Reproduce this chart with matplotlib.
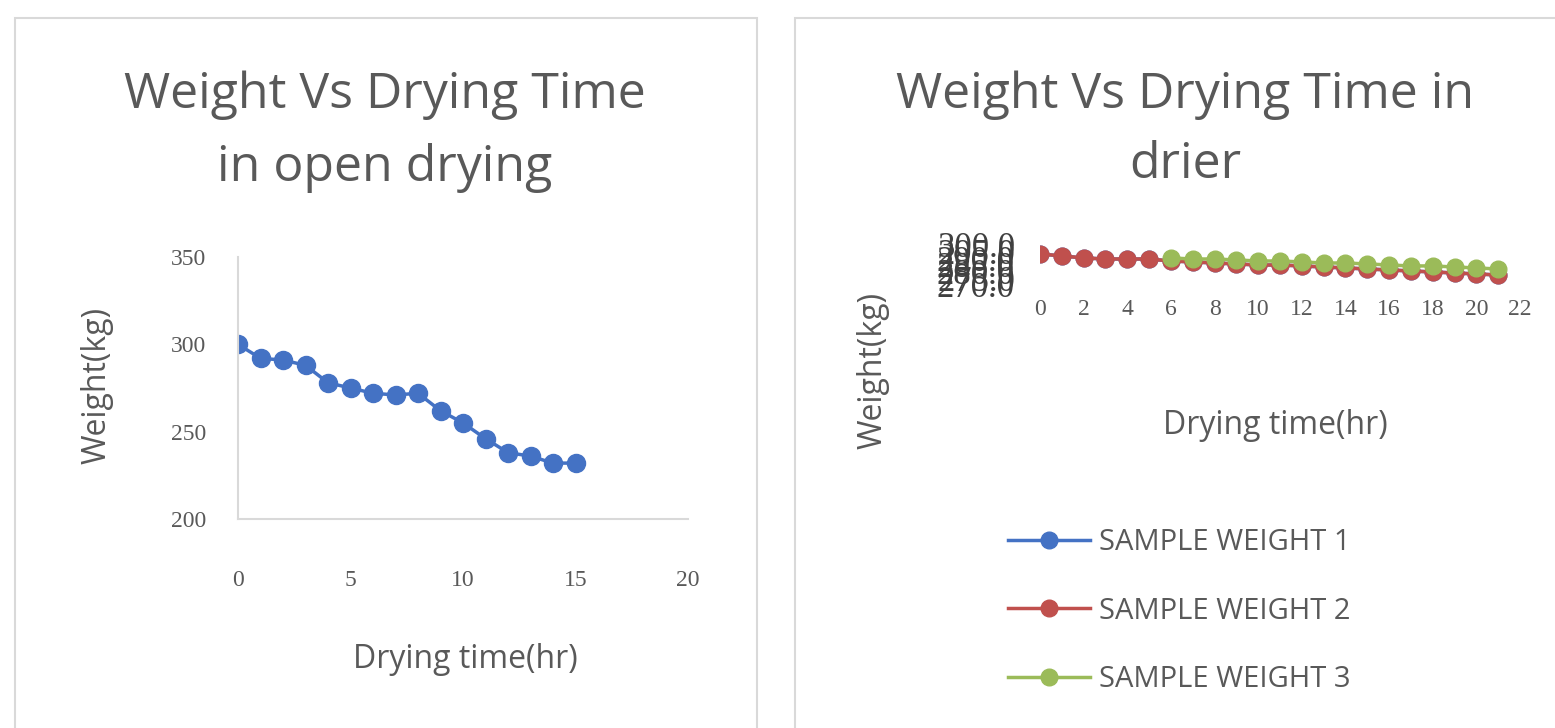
import matplotlib.pyplot as plt
from matplotlib.patches import Rectangle
from matplotlib.ticker import FormatStrFormatter

# Open drying data
open_time = list(range(16))
open_weight = [300, 292, 291, 288, 278, 275, 272, 271, 272, 262, 255, 246, 238, 236, 232, 232]

# Drier data
drier_time = list(range(22))
sample_w1 = [293.3, 291.8, 290.3, 289.5, 289.5, 289.5, 288.0, 287.3, 286.5, 285.8, 285.0,
             285.0, 284.3, 283.5, 282.8, 282.0, 281.3, 280.5, 279.8, 279.0, 278.3, 277.5]
sample_w2 = [293.3, 291.8, 290.3, 289.5, 289.5, 289.5, 288.0, 287.3, 286.5, 285.8, 285.0,
             285.0, 284.3, 283.5, 282.8, 282.0, 281.3, 280.5, 279.8, 279.0, 278.3, 277.5]
w3_time = list(range(6, 22))
sample_w3 = [290.3, 289.5, 289.5, 288.8, 288.0, 288.0, 287.3, 286.5, 286.5, 285.8, 285.0,
             284.3, 284.3, 283.5, 282.8, 282.0]
legend_labels = ['SAMPLE WEIGHT 1', 'SAMPLE WEIGHT 2', 'SAMPLE WEIGHT 3']

# Styles
W, H = 1555, 728
txt = '#595959'
axc = '#D9D9D9'
blue, red, green = '#4472C4', '#C0504D', '#9BBB59'
sans = 'Open Sans'
serif = 'Liberation Serif'

fig = plt.figure(figsize=(W / 100, H / 100), dpi=100)


def box(x0, y0, x1, y1):
    # pixel coords (top-left origin) -> figure fraction
    return [x0 / W, 1 - y1 / H, (x1 - x0) / W, (y1 - y0) / H]


# Chart panels
for (x0, y0, x1, y1) in [(15, 18, 757, 740), (795, 18, 1570, 740)]:
    fig.patches.append(Rectangle((x0 / W, 1 - y1 / H), (x1 - x0) / W, (y1 - y0) / H,
                                 transform=fig.transFigure, fill=False, ec=axc, lw=1.5))

# Left chart
ax1 = fig.add_axes(box(238, 257, 688, 519))
ax1.plot(open_time, open_weight, color=blue, lw=2.5, marker='o', ms=13)
ax1.set_xlim(0, 20)
ax1.set_ylim(200, 350)
ax1.set_xticks([0, 5, 10, 15, 20])
ax1.set_yticks([200, 250, 300, 350])
for s in ['top', 'right']:
    ax1.spines[s].set_visible(False)
for s in ['left', 'bottom']:
    ax1.spines[s].set_color(axc)
    ax1.spines[s].set_linewidth(1.5)
ax1.tick_params(length=0, colors=txt, labelsize=17)
ax1.tick_params(axis='x', pad=37)
ax1.tick_params(axis='y', pad=23)
for lab in ax1.get_xticklabels() + ax1.get_yticklabels():
    lab.set_family(serif)
fig.text(385 / W, 1 - 95 / H, 'Weight Vs Drying Time', ha='center', va='center',
         fontsize=36, color=txt, family=sans)
fig.text(385 / W, 1 - 168 / H, 'in open drying', ha='center', va='center',
         fontsize=36, color=txt, family=sans)
fig.text(97 / W, 1 - 385 / H, 'Weight(kg)', ha='center', va='center', rotation=90,
         fontsize=23, color=txt, family=sans)
fig.text(465 / W, 1 - 660 / H, 'Drying time(hr)', ha='center', va='center',
         fontsize=23, color=txt, family=sans)

# Right chart
ax2 = fig.add_axes(box(1040, 245, 1520, 285))
l1, = ax2.plot(drier_time, sample_w1, color=blue, lw=2.5, marker='o', ms=12)
l2, = ax2.plot(drier_time, sample_w2, color=red, lw=2.5, marker='o', ms=12)
l3, = ax2.plot(w3_time, sample_w3, color=green, lw=2.5, marker='o', ms=12)
ax2.set_xlim(0, 22)
ax2.set_ylim(270, 300)
ax2.set_xticks(range(0, 23, 2))
ax2.set_yticks(range(270, 301, 5))
ax2.yaxis.set_major_formatter(FormatStrFormatter('%.1f'))
for s in ax2.spines.values():
    s.set_visible(False)
ax2.tick_params(length=0, colors=txt, labelsize=17)
ax2.tick_params(axis='x', pad=10)
ax2.tick_params(axis='y', pad=18)
for lab in ax2.get_xticklabels() + ax2.get_yticklabels():
    lab.set_family(serif)
for lab in ax2.get_yticklabels():
    lab.set_color('#404040')
    lab.set_fontsize(25)
fig.text(1185 / W, 1 - 95 / H, 'Weight Vs Drying Time in', ha='center', va='center',
         fontsize=36, color=txt, family=sans)
fig.text(1185 / W, 1 - 165 / H, 'drier', ha='center', va='center',
         fontsize=36, color=txt, family=sans)
fig.text(873 / W, 1 - 370 / H, 'Weight(kg)', ha='center', va='center', rotation=90,
         fontsize=23, color=txt, family=sans)
fig.text(1275 / W, 1 - 425 / H, 'Drying time(hr)', ha='center', va='center',
         fontsize=23, color=txt, family=sans)

leg = fig.legend([l1, l2, l3], legend_labels, loc='upper left',
                 bbox_to_anchor=(982 / W, 1 - 502 / H), frameon=False,
                 labelcolor=txt, handlelength=2.8, labelspacing=1.35,
                 handletextpad=0.3, prop={'family': sans, 'size': 21})

fig.savefig('out.png', dpi=100)
